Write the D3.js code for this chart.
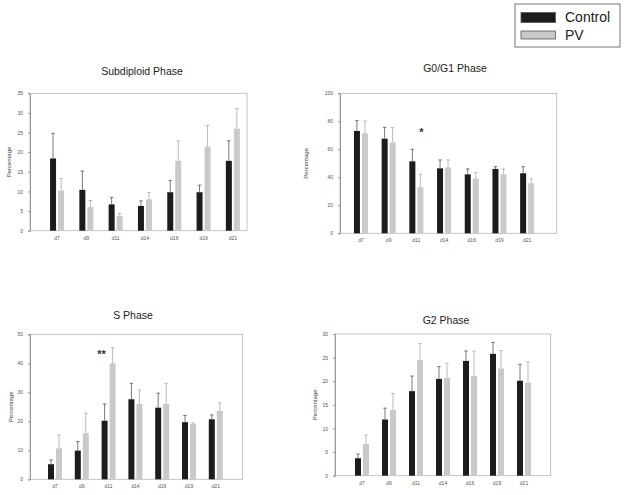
<!DOCTYPE html>
<html><head><meta charset="utf-8">
<script src="https://cdn.jsdelivr.net/npm/d3@7"></script>
<style>body{margin:0;background:#fff}svg{display:block}</style>
</head><body>
<script>
const categories = ["d7","d9","d11","d14","d16","d19","d21"];
const seriesNames = ["Control","PV"];

const subdiploidControl = [18.4,10.4,6.7,6.3,9.8,9.8,17.8];
const subdiploidControlErr = [6.4,4.8,1.8,1.3,3.0,1.8,5.1];
const subdiploidPV = [10.2,6.0,3.8,8.0,17.8,21.4,26.0];
const subdiploidPVErr = [3.1,1.7,0.6,1.7,5.1,5.4,5.1];

const g0g1Control = [73.1,67.6,51.4,46.4,42.1,46.0,42.9];
const g0g1ControlErr = [7.4,8.1,8.6,6.0,3.9,1.6,4.7];
const g0g1PV = [71.4,64.8,32.9,47.1,39.0,42.1,35.7];
const g0g1PVErr = [8.8,10.7,9.2,5.3,4.6,3.9,3.1];

const sControl = [5.2,9.9,20.2,27.6,24.7,19.7,20.7];
const sControlErr = [1.5,3.1,5.8,5.5,5.0,2.3,1.5];
const sPV = [10.7,15.9,40.0,26.0,26.0,19.1,23.6];
const sPVErr = [4.6,6.9,5.4,4.8,7.1,0.4,2.8];

const g2Control = [3.7,11.9,17.9,20.5,24.3,25.8,20.1];
const g2ControlErr = [0.9,2.4,3.2,2.6,2.1,2.4,3.5];
const g2PV = [6.7,13.9,24.5,20.7,21.1,22.7,19.7];
const g2PVErr = [1.9,3.5,3.5,3.1,5.3,3.8,4.4];

const subdiploidTicks = [0,5,10,15,20,25,30,35];
const g0g1Ticks = [0,20,40,60,80,100];
const sTicks = [0,10,20,30,40,50];
const g2Ticks = [0,5,10,15,20,25,30];

const W = 627, H = 495;
const svg = d3.select("body").append("svg").attr("width",W).attr("height",H);
const FONT = "Liberation Sans, Arial, sans-serif";
const colors = {Control:"#1c1c1c", PV:"#c9c9c9"};
const errColors = {Control:"#555", PV:"#aaa"};

function panel(o){
  const g = svg.append("g");
  const y = d3.scaleLinear().domain([0, o.ticks[o.ticks.length-1]]).range([o.bottom, o.top]);
  const x = d3.scaleBand().domain(categories).range([o.x0, o.x0 + o.step*categories.length]).padding(0);
  const sub = d3.scaleBand().domain(seriesNames).range([-7,7]).paddingInner(0.25);
  // frame
  g.append("rect").attr("x",o.left).attr("y",o.top).attr("width",o.right-o.left).attr("height",o.bottom-o.top)
    .attr("fill","none").attr("stroke","#b5b5b5").attr("stroke-width",0.8);
  // y axis
  const ax = g.append("g").attr("transform",`translate(${o.left},0)`)
    .call(d3.axisLeft(y).tickValues(o.ticks).tickSize(2).tickPadding(5));
  ax.select(".domain").attr("stroke","#9a9a9a");
  ax.selectAll(".tick line").attr("stroke","#9a9a9a");
  ax.selectAll("text").attr("font-size",5).attr("font-family",FONT).attr("fill","#555");
  // x labels
  g.append("g").selectAll("text").data(categories).join("text")
    .attr("x",d=>x(d)+x.bandwidth()/2).attr("y",o.bottom+9).attr("text-anchor","middle")
    .attr("font-size",5).attr("font-family",FONT).attr("fill","#555").text(d=>d);
  // bars
  const rows = [];
  categories.forEach((c,i)=>{
    rows.push({c, s:"Control", v:o.control[i], e:o.controlErr[i]});
    rows.push({c, s:"PV", v:o.pv[i], e:o.pvErr[i]});
  });
  const cx = d=>x(d.c)+x.bandwidth()/2 + sub(d.s);
  g.append("g").selectAll("rect").data(rows).join("rect")
    .attr("x",cx).attr("width",sub.bandwidth())
    .attr("y",d=>y(d.v)).attr("height",d=>y(0)-y(d.v))
    .attr("fill",d=>colors[d.s]);
  const eb = g.append("g").selectAll("g").data(rows).join("g");
  eb.append("line").attr("x1",d=>cx(d)+sub.bandwidth()/2).attr("x2",d=>cx(d)+sub.bandwidth()/2)
    .attr("y1",d=>y(d.v)).attr("y2",d=>y(d.v+d.e)).attr("stroke",d=>errColors[d.s]).attr("stroke-width",0.8);
  eb.append("line").attr("x1",d=>cx(d)+sub.bandwidth()/2-1.7).attr("x2",d=>cx(d)+sub.bandwidth()/2+1.7)
    .attr("y1",d=>y(d.v+d.e)).attr("y2",d=>y(d.v+d.e)).attr("stroke",d=>errColors[d.s]).attr("stroke-width",0.8);
  // title
  g.append("text").attr("x",o.titleX).attr("y",o.titleY).attr("text-anchor","middle")
    .attr("font-size",10.5).attr("font-family",FONT).attr("fill","#222").text(o.title);
  // y label
  g.append("text").attr("transform",`translate(${o.ylabX},${(o.top+o.bottom)/2}) rotate(-90)`)
    .attr("text-anchor","middle").attr("font-size",6).attr("font-family",FONT).attr("fill","#444").text("Percentage");
  if(o.mark){
    g.append("text").attr("x",x(o.mark.c)+x.bandwidth()/2+o.mark.dx).attr("y",o.mark.y).attr("text-anchor","middle")
      .attr("font-size",11).attr("font-weight","bold").attr("font-family",FONT).attr("fill","#333").text(o.mark.t);
  }
}

panel({title:"Subdiploid Phase", titleX:142, titleY:75, left:30, right:247, top:93.3, bottom:230.7,
  x0:42.4, step:29.3, ticks:subdiploidTicks, ylabX:11,
  control:subdiploidControl, controlErr:subdiploidControlErr, pv:subdiploidPV, pvErr:subdiploidPVErr});
panel({title:"G0/G1 Phase", titleX:455, titleY:72, left:340, right:556.7, top:93.3, bottom:233.3,
  x0:347.1, step:27.7, ticks:g0g1Ticks, ylabX:308,
  control:g0g1Control, controlErr:g0g1ControlErr, pv:g0g1PV, pvErr:g0g1PVErr,
  mark:{c:"d11", t:"*", dx:5, y:136}});
panel({title:"S Phase", titleX:133, titleY:319, left:30, right:242.7, top:334.3, bottom:479.3,
  x0:41.6, step:26.8, ticks:sTicks, ylabX:13,
  control:sControl, controlErr:sControlErr, pv:sPV, pvErr:sPVErr,
  mark:{c:"d11", t:"**", dx:-7, y:358}});
panel({title:"G2 Phase", titleX:446, titleY:324, left:335, right:550.7, top:334, bottom:475.7,
  x0:348.5, step:27, ticks:g2Ticks, ylabX:317,
  control:g2Control, controlErr:g2ControlErr, pv:g2PV, pvErr:g2PVErr});

// legend
const lg = svg.append("g");
lg.append("rect").attr("x",515).attr("y",4).attr("width",105).attr("height",43)
  .attr("fill","#fff").attr("stroke","#777").attr("stroke-width",1);
seriesNames.forEach((s,i)=>{
  lg.append("rect").attr("x",521).attr("y",12.5+i*18.5).attr("width",34.5).attr("height",i?8:10)
    .attr("fill",colors[s]).attr("stroke","#555").attr("stroke-width",0.8);
  lg.append("text").attr("x",565).attr("y",22+i*18).attr("font-size",14).attr("font-family",FONT)
    .attr("fill","#222").text(s);
});
</script>
</body></html>
